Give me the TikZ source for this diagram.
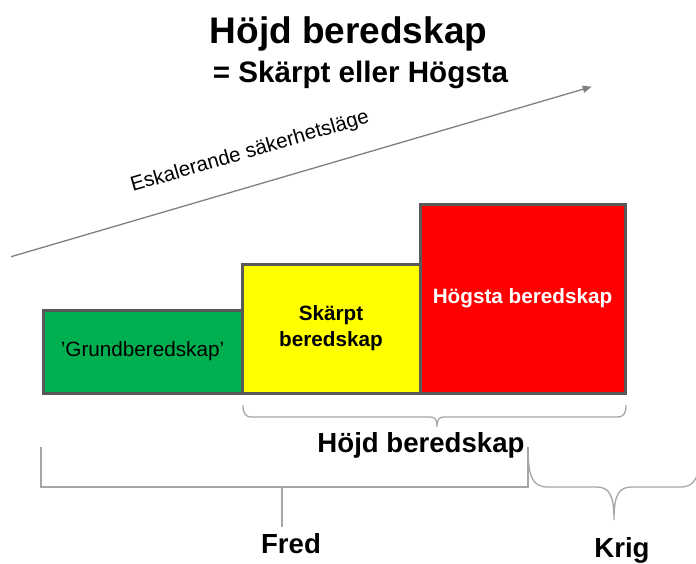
\documentclass[tikz,border=0pt]{standalone}
\usepackage{fontspec}
\setmainfont{Liberation Sans}
\usetikzlibrary{arrows.meta}
\definecolor{grn}{HTML}{00B050}
\definecolor{yel}{HTML}{FFFF00}
\definecolor{rd}{HTML}{FF0000}
\definecolor{bordergray}{HTML}{595959}
\definecolor{arrowgray}{HTML}{7F7F7F}
\definecolor{bracegray}{HTML}{A6A6A6}
\begin{document}
\begin{tikzpicture}[x=1pt,y=-1pt,
  lvl/.style={draw=bordergray, line width=3pt, inner sep=0pt, align=center,
    font=\bfseries\fontsize{20.7}{26}\selectfont},
  bracepath/.style={draw=bracegray, line width=1.3pt},
  lbl/.style={font=\bfseries\fontsize{27.6}{32}\selectfont, anchor=base, inner sep=0pt},
  ttl/.style={anchor=base, inner sep=0pt}]
\useasboundingbox (0,0) rectangle (696,563);

% titles
\node[ttl, font=\bfseries\fontsize{37}{44}\selectfont] (title) at (348.5,43) {Höjd beredskap};
\node[ttl, font=\bfseries\fontsize{29.6}{34}\selectfont] (subtitle) at (360.5,82) {= Skärpt eller Högsta};

% escalation arrow
\coordinate (a0) at (11,256.7);
\coordinate (a1) at (591.7,86.7);
\draw[arrowgray, line width=1.3pt, -{Triangle[length=9pt,width=7pt]}] (a0) -- (a1);
\node[rotate=16.3, inner sep=0pt, font=\fontsize{20.5}{24}\selectfont] (esk) at (250,152) {Eskalerande säkerhetsläge};

% levels
\node[lvl, fill=grn, minimum width=199pt, minimum height=83pt,
      font=\fontsize{20.7}{26}\selectfont] (grund) at (142.5,351.5) {’Grundberedskap’};
\node[lvl, fill=yel, minimum width=178pt, minimum height=129pt] (skarpt) at (331,328.5) {Skärpt\\beredskap};
\node[lvl, fill=rd, text=white, minimum width=205pt, minimum height=189pt] (hogsta) at (522.5,298.5) {Högsta beredskap};

% brace: Höjd beredskap
\coordinate (h0) at (243,405);
\coordinate (hm) at (437,427);
\coordinate (h1) at (626,405);
\draw[bracepath] (h0) .. controls (243,413) and (245,417) .. (252,417) -- (430,417)
  .. controls (435,417) and (437,419) .. (hm)
  .. controls (437,419) and (439,417) .. (444,417) -- (617,417)
  .. controls (624,417) and (626,413) .. (h1);
\node[lbl] (hojd) at (421,452) {Höjd beredskap};

% brace: Fred
\coordinate (f0) at (41,447);
\coordinate (f1) at (528,447);
\coordinate (fm) at (282,527);
\draw[bracepath] (f0) -- (41,487) -- (528,487) -- (f1);
\draw[bracepath] (282,487) -- (fm);
\node[lbl] (fred) at (291,553) {Fred};

% brace: Krig
\coordinate (k0) at (528,447);
\coordinate (km) at (614,520);
\coordinate (k1) at (700,447);
\draw[bracepath] (k0) .. controls (528,478) and (533,487) .. (548,487) -- (596,487)
  .. controls (609,487) and (614,494) .. (km)
  .. controls (614,494) and (619,487) .. (632,487) -- (680,487)
  .. controls (695,487) and (700,478) .. (k1);
\node[lbl] (krig) at (622,557) {Krig};
\end{tikzpicture}
\end{document}
